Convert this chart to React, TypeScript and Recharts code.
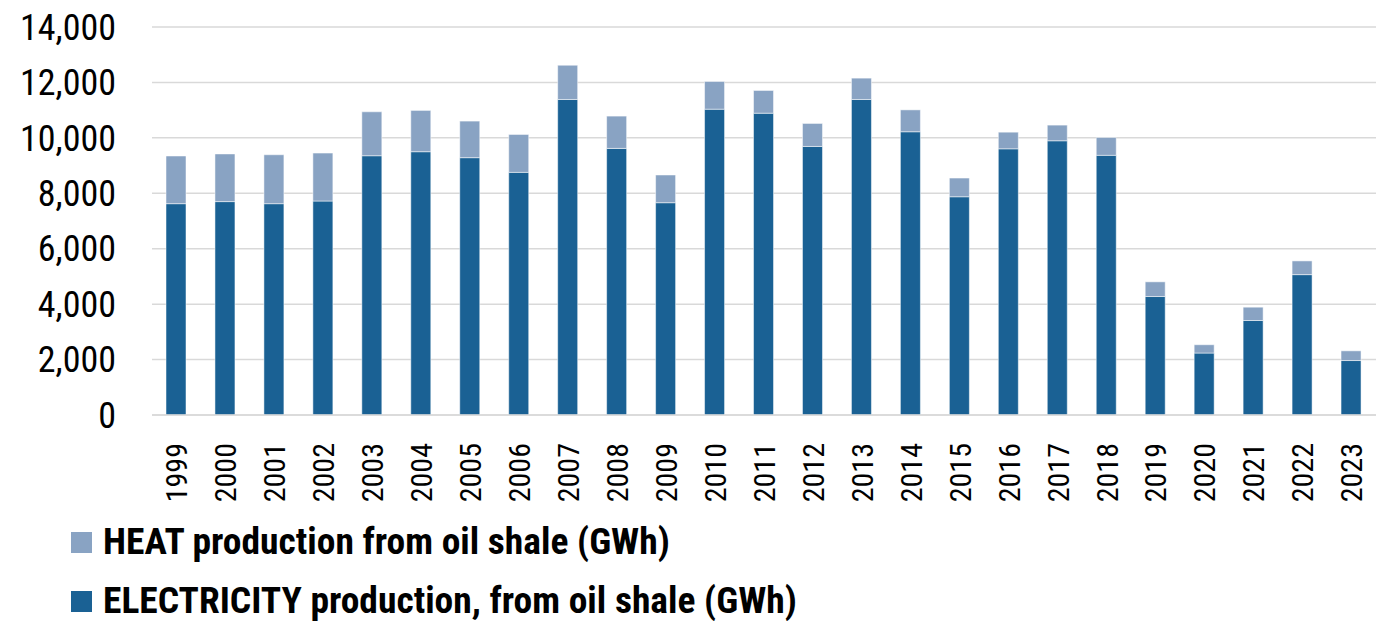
import React from "react";
import { BarChart, Bar, XAxis, YAxis, CartesianGrid, Legend } from "recharts";

// Oil shale based production in GWh, 1999–2023
const years = [
  "1999", "2000", "2001", "2002", "2003", "2004", "2005", "2006", "2007",
  "2008", "2009", "2010", "2011", "2012", "2013", "2014", "2015", "2016",
  "2017", "2018", "2019", "2020", "2021", "2022", "2023",
];

const electricity = [
  7625, 7700, 7625, 7720, 9355, 9500, 9285, 8755, 11385,
  9620, 7660, 11035, 10890, 9690, 11385, 10220, 7875, 9605,
  9895, 9370, 4275, 2235, 3410, 5065, 1965,
];

const heat = [
  1720, 1720, 1765, 1730, 1585, 1490, 1320, 1370, 1235,
  1165, 1000, 1000, 820, 830, 770, 790, 675, 600,
  565, 645, 530, 300, 480, 495, 350,
];

const yTicks = [0, 2000, 4000, 6000, 8000, 10000, 12000, 14000];

const ELEC_NAME = "ELECTRICITY production, from oil shale (GWh)";
const HEAT_NAME = "HEAT production from oil shale (GWh)";

const data = years.map((year, i) => ({
  year,
  electricity: electricity[i],
  heat: heat[i],
}));

const FONT =
  "'Roboto Condensed', 'Liberation Sans Narrow', 'Arial Narrow', Roboto, sans-serif";

const ELEC_COLOR = "#1a6194";
const HEAT_COLOR = "#89a3c3";

const fmt = (v: number) => v.toLocaleString("en-US");

const LegendContent = (props: any) => {
  const items = [...(props.payload || [])].reverse();
  return (
    <div style={{ height: 100, position: "relative", fontFamily: FONT }}>
      {items.map((item: any, i: number) => (
        <div
          key={item.value}
          style={{
            position: "absolute",
            left: 71,
            top: i === 0 ? 10 : 69,
            height: 22,
            display: "flex",
            alignItems: "center",
            whiteSpace: "nowrap",
          }}
        >
          <span
            style={{
              display: "inline-block",
              width: 21,
              height: 21,
              background: item.color,
              marginRight: 11,
              flex: "none",
            }}
          />
          <span
            style={{
              fontSize: 37.5,
              lineHeight: 1,
              fontWeight: 700,
              color: "#000",
            }}
          >
            {item.value}
          </span>
        </div>
      ))}
    </div>
  );
};

export default function App() {
  return (
    <div style={{ position: "absolute", left: 0, top: 0, width: 1385, height: 621, background: "#fff" }}>
      <BarChart
        width={1385}
        height={621}
        data={data}
        margin={{ top: 27, right: 9, left: 0, bottom: 0 }}
      >
        <CartesianGrid vertical={false} stroke="#d9d9d9" strokeWidth={1.5} />
        <XAxis
          dataKey="year"
          height={106}
          interval={0}
          axisLine={{ stroke: "#d9d9d9", strokeWidth: 1.5 }}
          tickLine={false}
          tickMargin={22}
          angle={-90}
          textAnchor="end"
          tick={{ fontSize: 30, fill: "#000", fontFamily: FONT, dx: -10.5 } as any}
        />
        <YAxis
          width={152}
          domain={[0, 14000]}
          ticks={yTicks}
          interval={0}
          tickFormatter={fmt}
          axisLine={false}
          tickLine={false}
          tickSize={0}
          tickMargin={36}
          tick={{ fontSize: 36, fill: "#000", fontFamily: FONT } as any}
        />
        <Legend verticalAlign="bottom" align="left" content={LegendContent} />
        <Bar
          dataKey="electricity"
          name={ELEC_NAME}
          stackId="a"
          fill={ELEC_COLOR}
          barSize={20}
          stroke="#ffffff"
          strokeWidth={0.5}
          isAnimationActive={false}
        />
        <Bar
          dataKey="heat"
          name={HEAT_NAME}
          stackId="a"
          fill={HEAT_COLOR}
          barSize={20}
          stroke="#ffffff"
          strokeWidth={0.5}
          isAnimationActive={false}
        />
      </BarChart>
    </div>
  );
}
